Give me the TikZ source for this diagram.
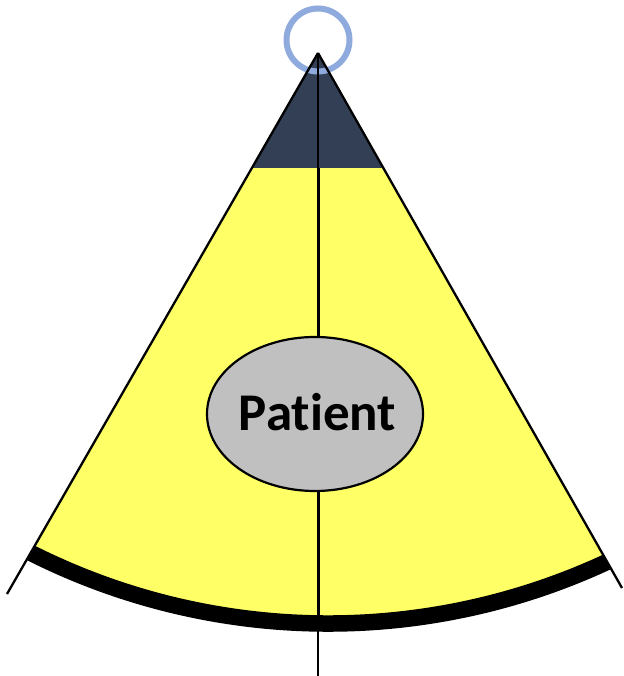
\documentclass[tikz,border=0pt]{standalone}
\usepackage{fontspec}
\setmainfont{Carlito}
\usetikzlibrary{shapes.geometric}
\definecolor{coneyellow}{HTML}{FFFF66}
\definecolor{conedark}{HTML}{333F55}
\definecolor{ringblue}{HTML}{8FAADC}
\definecolor{patgray}{HTML}{C0C0C0}
\tikzset{
  edgeline/.style={draw=black, line width=2.3pt},
  axisline/.style={draw=black, line width=1.8pt},
  rimline/.style={draw=black, line width=16.5pt},
  patientnode/.style={ellipse, draw=black, line width=2.2pt, fill=patgray, minimum width=216pt, minimum height=154pt, inner sep=0pt},
}
\begin{document}
\begin{tikzpicture}[x=1pt,y=1pt]
\useasboundingbox (0,0) rectangle (623,676);
\coordinate (apex) at (318,623);
\coordinate (lc) at (31,123);
\coordinate (rc) at (607,114);
\coordinate (lfar) at (7,82);
\coordinate (rfar) at (622,88);
\coordinate (dl) at (252,508);
\coordinate (dr) at (383,508);
\coordinate (dm) at (318,508);
\coordinate (bot) at (318,0);
\coordinate (rimmid) at (318,52.5);
% yellow sector
\fill[coneyellow] (apex) -- (lc) arc[start angle=-116.7, end angle=-65.1, radius=661.5] -- cycle;
% dark tip
\fill[conedark] (apex) -- (dl) -- (dr) -- cycle;
% ring
\draw[ringblue, line width=6pt] (318,636) circle[radius=31.5];
% side lines
\draw[edgeline] (apex) -- (lfar);
\draw[edgeline] (apex) -- (rfar);
% axis
\draw[axisline] (apex) -- (bot);
\draw[black, line width=3pt] (dm) -- (rimmid);
% rim
\draw[rimline] (lc) arc[start angle=-116.7, end angle=-65.1, radius=661.5];
% patient
\node[patientnode] (patient) at (315,262) {};
\node[font=\fontsize{53}{60}\selectfont\bfseries] (ptext) at (317.5,264) {Pat\kern0pt ient};
\end{tikzpicture}
\end{document}
